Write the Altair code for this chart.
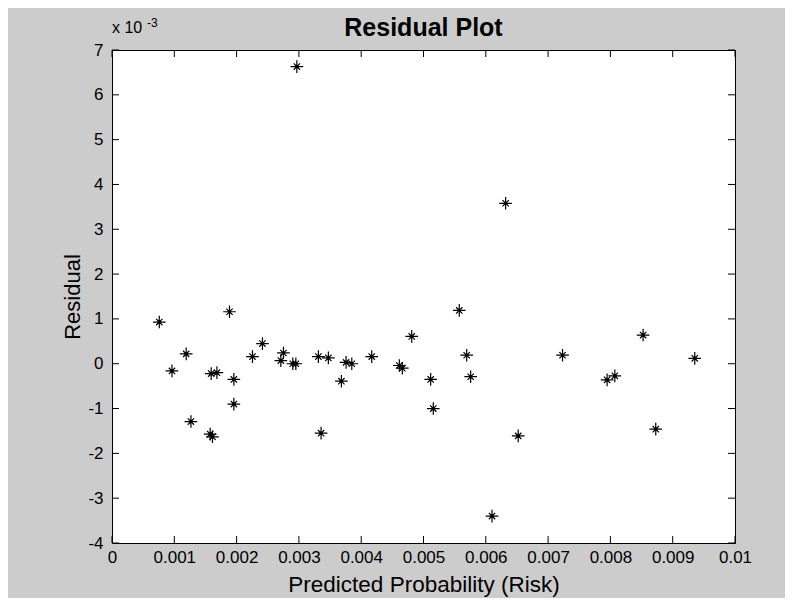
import altair as alt
import pandas as pd

# ---- data ----
predicted = [0.000759, 0.000962, 0.001191, 0.001267, 0.001576, 0.001613, 0.001592,
             0.001684, 0.001886, 0.001956, 0.001956, 0.002255, 0.002415, 0.002710,
             0.002752, 0.002902, 0.002951, 0.002967, 0.003313, 0.003356, 0.003473,
             0.003682, 0.003757, 0.003849, 0.004169, 0.004612, 0.004660, 0.004811,
             0.005115, 0.005157, 0.005574, 0.005693, 0.005757, 0.006100, 0.006318,
             0.006520, 0.007232, 0.007947, 0.008071, 0.008525, 0.008728, 0.009354]
residual_e3 = [0.93, -0.16, 0.22, -1.29, -1.57, -1.63, -0.22,
               -0.20, 1.16, -0.35, -0.90, 0.16, 0.45, 0.07,
               0.24, 0.00, 0.00, 6.63, 0.16, -1.55, 0.13,
               -0.39, 0.03, 0.00, 0.16, -0.04, -0.10, 0.61,
               -0.35, -1.00, 1.19, 0.19, -0.29, -3.40, 3.58,
               -1.61, 0.19, -0.36, -0.27, 0.64, -1.46, 0.12]
x_ticks = [0, 0.001, 0.002, 0.003, 0.004, 0.005, 0.006, 0.007, 0.008, 0.009, 0.01]
y_ticks = [-4, -3, -2, -1, 0, 1, 2, 3, 4, 5, 6, 7]
title_text = ["Residual Plot"]
x_title = "Predicted Probability (Risk)"
y_title = "Residual"
exp_base = ["x 10"]
exp_power = ["-3"]

W, H = 623, 493
FONT = "Liberation Sans"

xs = alt.Scale(domain=[0, 0.01], nice=False, zero=False)
ys = alt.Scale(domain=[-4, 7], nice=False, zero=False)

x_axis = alt.Axis(values=x_ticks, labelExpr="datum.value + ''", title=x_title,
                  ticks=False, tickSize=0, domain=False, grid=False, labelPadding=6,
                  labelFont=FONT, labelFontSize=17, labelColor="black",
                  labelFlush=False, labelOverlap=False, titleFont=FONT,
                  titleFontSize=22.5, titleFontWeight="normal", titleColor="black",
                  titleX=W / 2, titleY=41, titleBaseline="middle", titleAlign="center")
y_axis = alt.Axis(values=y_ticks, labelExpr="datum.value + ''", title=y_title,
                  ticks=False, tickSize=0, domain=False, grid=False, labelPadding=9,
                  labelFont=FONT, labelFontSize=17, labelColor="black",
                  labelFlush=False, labelOverlap=False, titleFont=FONT,
                  titleFontSize=22, titleFontWeight="normal", titleColor="black",
                  titleX=-40, titleY=H / 2, titleAngle=270, titleBaseline="middle",
                  titleAlign="center")

X = alt.X("p:Q", scale=xs, axis=x_axis)
Y = alt.Y("r:Q", scale=ys, axis=y_axis)

pts = pd.DataFrame({"p": predicted, "r": residual_e3})
star = "M-1,0L1,0M0,-1L0,1M-0.5,-0.5L0.5,0.5M-0.5,0.5L0.5,-0.5"

stars = alt.Chart(pts).mark_point(shape=star, filled=False, stroke="black",
                                  strokeWidth=1.2, size=160, opacity=1).encode(x=X, y=Y)
dots = alt.Chart(pts).mark_circle(size=12, color="black", opacity=1).encode(x=X, y=Y)

xt = pd.DataFrame({"p": x_ticks})
yt = pd.DataFrame({"r": y_ticks})
tick_len = 7
bottom_ticks = alt.Chart(xt).mark_rule(color="black", strokeWidth=1).encode(
    x=X, y=alt.value(H), y2=alt.value(H - tick_len))
top_ticks = alt.Chart(xt).mark_rule(color="black", strokeWidth=1).encode(
    x=X, y=alt.value(0), y2=alt.value(tick_len))
left_ticks = alt.Chart(yt).mark_rule(color="black", strokeWidth=1).encode(
    y=Y, x=alt.value(0), x2=alt.value(tick_len))
right_ticks = alt.Chart(yt).mark_rule(color="black", strokeWidth=1).encode(
    y=Y, x=alt.value(W), x2=alt.value(W - tick_len))

exp1 = alt.Chart(pd.DataFrame({"t": exp_base})).mark_text(
    align="left", baseline="alphabetic", font=FONT, fontSize=16, color="black"
).encode(text="t:N", x=alt.value(0), y=alt.value(-17))
exp2 = alt.Chart(pd.DataFrame({"t": exp_power})).mark_text(
    align="left", baseline="alphabetic", font=FONT, fontSize=12, color="black"
).encode(text="t:N", x=alt.value(35), y=alt.value(-23))
title = alt.Chart(pd.DataFrame({"t": title_text})).mark_text(
    align="center", baseline="alphabetic", font=FONT, fontSize=25, fontWeight="bold",
    color="black"
).encode(text="t:N", x=alt.value(W / 2), y=alt.value(-14))

chart = alt.layer(stars, dots, bottom_ticks, top_ticks, left_ticks, right_ticks,
                  exp1, exp2, title).properties(
    width=W, height=H,
    padding={"left": 104, "top": 42, "right": 50, "bottom": 55},
    autosize=alt.AutoSizeParams(type="none"),
).configure(background="#cccccc").configure_view(
    fill="white", stroke="black", strokeWidth=1)

chart.save("out.html", embed_options={"renderer": "svg", "actions": False})
